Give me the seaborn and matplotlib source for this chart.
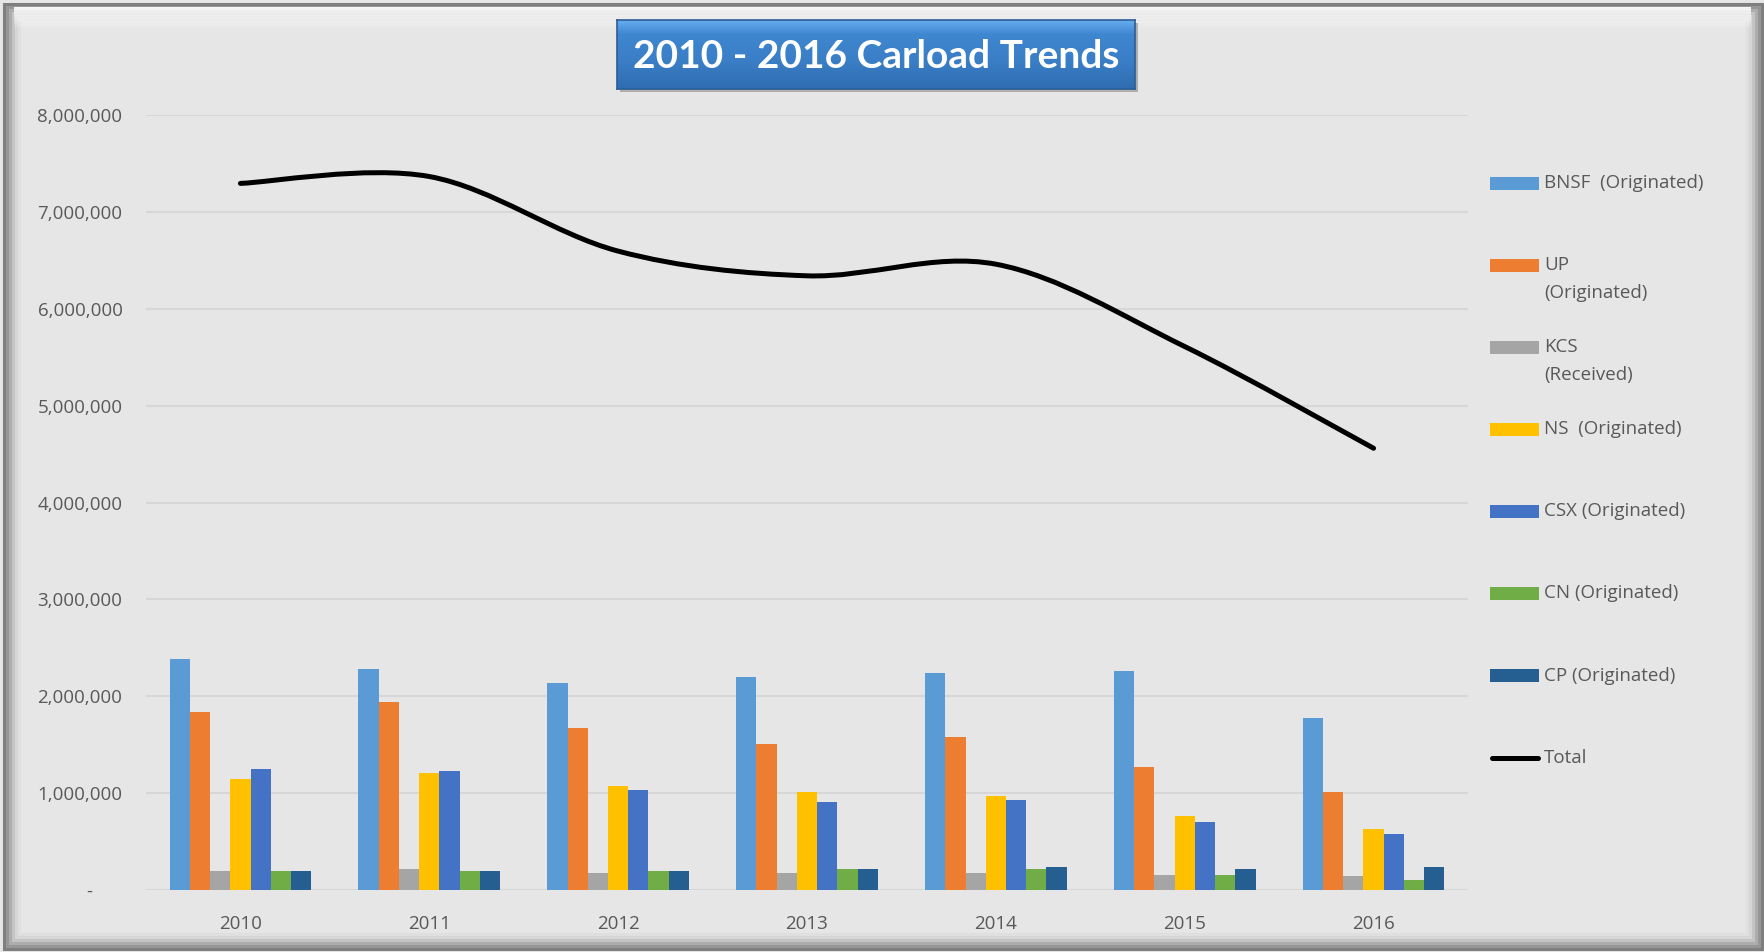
import numpy as np
import pandas as pd
import matplotlib
matplotlib.use("Agg")
import matplotlib.pyplot as plt
import matplotlib.ticker as mticker
from matplotlib.patches import Rectangle, PathPatch
from matplotlib.path import Path
from matplotlib.lines import Line2D
from matplotlib.colors import LinearSegmentedColormap
import seaborn as sns

# data
years = ["2010", "2011", "2012", "2013", "2014", "2015", "2016"]
railroads = ["BNSF  (Originated)", "UP\n(Originated)", "KCS\n(Received)",
             "NS  (Originated)", "CSX (Originated)", "CN (Originated)", "CP (Originated)"]
bnsf = [2380000, 2280000, 2140000, 2200000, 2240000, 2260000, 1775000]
up = [1837000, 1940000, 1670000, 1510000, 1575000, 1270000, 1010000]
kcs = [200000, 220000, 180000, 180000, 180000, 160000, 140000]
ns = [1150000, 1210000, 1070000, 1010000, 967000, 767000, 625000]
csx = [1250000, 1230000, 1030000, 905000, 925000, 705000, 583000]
cn = [200000, 200000, 200000, 220000, 220000, 160000, 100000]
cp = [200000, 200000, 200000, 220000, 240000, 220000, 240000]
total = [7294000, 7365000, 6595000, 6340000, 6460000, 5610000, 4560000]
yticks = [0, 1000000, 2000000, 3000000, 4000000, 5000000, 6000000, 7000000, 8000000]

colors = ["#5B9BD5", "#ED7D31", "#A5A5A5", "#FFC000", "#4472C4", "#70AD47", "#255E91"]
title = "2010 - 2016 Carload Trends"

series = [bnsf, up, kcs, ns, csx, cn, cp]
df = pd.DataFrame([
    {"year": y, "railroad": name, "carloads": vals[i]}
    for name, vals in zip(railroads, series)
    for i, y in enumerate(years)
])

sns.set_theme(style="white")
plt.rcParams["font.family"] = ["Open Sans", "DejaVu Sans"]

W, H = 1765, 952
fig = plt.figure(figsize=(W / 100, H / 100), dpi=100)
fig.patch.set_facecolor("#E6E6E6")


def fx(x):
    return x / W


def fy(y):
    return 1 - y / H


# bevelled frame around the chart
for lt, rb, col in [(4, 3, "#7F7F7F"), (7, 6, "#969696"), (10, 9, "#ADADAD"),
                    (13, 12, "#C4C4C4"), (16, 15, "#D6D6D6"), (19, 18, "#DFDFDF")]:
    fig.add_artist(Rectangle((fx(lt), fy(H - rb)), fx(W - rb) - fx(lt), fy(lt) - fy(H - rb),
                             transform=fig.transFigure, fill=False, edgecolor=col,
                             linewidth=2.2, zorder=0))

# white glare along the top edge
gax = fig.add_axes([fx(14), fy(30), fx(W - 14) - fx(14), (30 - 7) / H])
glare = np.ones((50, 2, 4))
glare[:, :, 3] = np.linspace(0.95, 0.0, 50)[:, None]
gax.imshow(glare, aspect="auto", extent=[0, 1, 0, 1])
gax.axis("off")

# main axes
ax = fig.add_axes([fx(146), fy(890), fx(1468) - fx(146), fy(115) - fy(890)])
ax.set_facecolor("none")

sns.barplot(data=df, x="year", y="carloads", hue="railroad", hue_order=railroads,
            palette=colors, width=0.75, saturation=1, linewidth=0,
            legend=False, ax=ax, zorder=2)

# smoothed total line (Catmull-Rom as cubic bezier segments in data coords)
px = np.arange(len(total), dtype=float)
py = np.array(total, dtype=float)
ex = np.concatenate([[px[0]], px, [px[-1]]])
ey = np.concatenate([[py[0]], py, [py[-1]]])
verts = [(px[0], py[0])]
codes = [Path.MOVETO]
for i in range(1, len(ex) - 2):
    c1 = (ex[i] + (ex[i + 1] - ex[i - 1]) / 6, ey[i] + (ey[i + 1] - ey[i - 1]) / 6)
    c2 = (ex[i + 1] - (ex[i + 2] - ex[i]) / 6, ey[i + 1] - (ey[i + 2] - ey[i]) / 6)
    verts += [c1, c2, (ex[i + 1], ey[i + 1])]
    codes += [Path.CURVE4] * 3
ax.add_patch(PathPatch(Path(verts, codes), fill=False, edgecolor="black",
                       linewidth=3.6, capstyle="round", zorder=4))

ax.set_xlim(-0.5, 6.5)
ax.set_ylim(0, 8000000)
ax.set_yticks(yticks)
ax.yaxis.set_major_formatter(mticker.FuncFormatter(
    lambda v, p: "-      " if v == 0 else f"{v:,.0f}"))
ax.yaxis.grid(True, color="#D7D7D7", linewidth=1.5, zorder=0)
ax.xaxis.grid(False)
ax.set_axisbelow(True)
for s in ax.spines.values():
    s.set_visible(False)
ax.tick_params(axis="y", length=0, pad=17, labelsize=13.5, labelcolor="#595959")
ax.tick_params(axis="x", length=0, pad=18, labelsize=13.5, labelcolor="#595959")
ax.set_xlabel("")
ax.set_ylabel("")

# legend, entries stacked down the right side (patch next to the first text line)
for i, (name, col) in enumerate(zip(railroads + ["Total"], colors + ["black"])):
    yy = 183 + 82.1 * i
    if name == "Total":
        fig.add_artist(Line2D([fx(1492), fx(1538)], [fy(yy), fy(yy)], color="black",
                              linewidth=3.6, solid_capstyle="round",
                              transform=fig.transFigure))
    else:
        fig.add_artist(Rectangle((fx(1490), fy(yy + 6.5)), 49 / W, 13 / H,
                                 transform=fig.transFigure, facecolor=col,
                                 edgecolor="none"))
    shift = 14 * name.count("\n")
    fig.text(fx(1544), fy(yy + shift), name, va="center", ha="left",
             fontsize=13.5, color="#595959", linespacing=1.7)

# title banner with blue gradient
fig.add_artist(Rectangle((fx(620), fy(92)), 518 / W, 69 / H, transform=fig.transFigure,
                         facecolor="#8A8A8A", edgecolor="none", alpha=0.6, zorder=0.5))
tax = fig.add_axes([fx(617), fy(89), 518 / W, 69 / H])
tax.set_zorder(5)
blue = LinearSegmentedColormap.from_list(
    "banner", [(0, "#66ACEE"), (0.2, "#3F87D0"), (0.6, "#3A7EC6"), (1, "#2F6DB0")])
tax.imshow(np.linspace(0, 1, 100).reshape(-1, 1), cmap=blue, aspect="auto",
           extent=[0, 1, 0, 1])
tax.set_xticks([])
tax.set_yticks([])
for s in tax.spines.values():
    s.set_color("#2A5E95")
    s.set_linewidth(1.2)
tax.text(0.5, 0.47, title, transform=tax.transAxes, ha="center", va="center",
         color="white", fontsize=28, fontweight="bold", family=["Lato", "DejaVu Sans"])

fig.savefig("out.png", dpi=100, facecolor=fig.get_facecolor())
